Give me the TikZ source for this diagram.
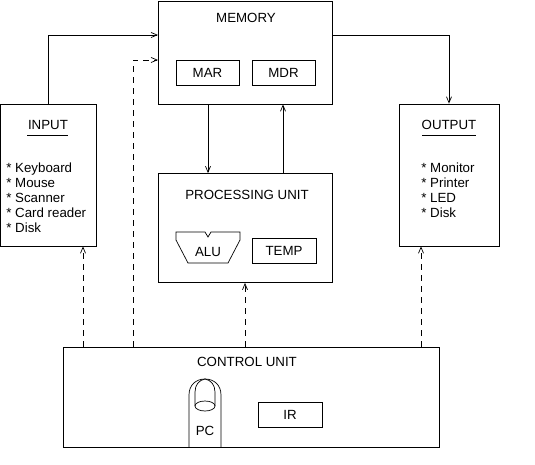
\documentclass[tikz,border=0pt]{standalone}
\usepackage{fontspec}
\setmainfont{Liberation Sans}
\usetikzlibrary{arrows.meta}
\begin{document}
\begin{tikzpicture}[x=1pt,y=-1pt,line width=0.7pt,
  box/.style={draw,rectangle,inner sep=0pt},
  lbl/.style={font=\fontsize{13.3}{15}\selectfont,inner sep=0pt},
  arr/.style={-{Straight Barb[length=6pt,width=5pt]}},
  dsh/.style={dash pattern=on 6pt off 5pt}]
\useasboundingbox (0,0) rectangle (535,465);
% boxes
\node[box,minimum width=174pt,minimum height=103pt] (memory) at (245,52.5) {};
\node[lbl] (memlbl) at (246,18) {MEMORY};
\node[box,minimum width=63pt,minimum height=25pt,lbl] (mar) at (207.5,72.5) {MAR};
\node[box,minimum width=63pt,minimum height=25pt,lbl] (mdr) at (283.5,72.5) {MDR};

\node[box,minimum width=174pt,minimum height=109pt] (proc) at (245,228) {};
\node[lbl] (proclbl) at (247,195) {PROCESSING UNIT};
\node[box,minimum width=64pt,minimum height=25pt,lbl] (temp) at (284,250.5) {TEMP};
\draw (176,232) -- (205,232) -- (208,237) -- (211,232) -- (240,232) -- (240,240) -- (228,263) -- (188,263) -- (176,240) -- cycle;
\node[lbl] (alu) at (208,252) {ALU};

\node[box,minimum width=96pt,minimum height=142pt] (input) at (48.5,175) {};
\node[lbl] (inlbl) at (48,125) {INPUT};
\draw (27,135) -- (68,135);
\node[lbl,align=left,anchor=north west] (inlist) at (6,163) {* Keyboard\\* Mouse\\* Scanner\\* Card reader\\* Disk};

\node[box,minimum width=100pt,minimum height=142pt] (output) at (449,175) {};
\node[lbl] (outlbl) at (449,125) {OUTPUT};
\draw (422,135) -- (476,135);
\node[lbl,align=left,anchor=north west] (outlist) at (421,163) {* Monitor\\* Printer\\* LED\\* Disk};

\node[box,minimum width=376pt,minimum height=100pt] (ctrl) at (251,397) {};
\node[lbl] (ctrllbl) at (247,362) {CONTROL UNIT};
\node[box,minimum width=64pt,minimum height=25pt,lbl] (ir) at (290,414.5) {IR};
% PC cylinder
\draw (189,447) -- (189,395) .. controls (189,385) and (196,379) .. (205,379) .. controls (214,379) and (221,385) .. (221,395) -- (221,447);
\draw (195,406) -- (195,392) .. controls (195,385) and (199,380) .. (205,379);
\draw (215,406) -- (215,392) .. controls (215,385) and (211,380) .. (205,379);
\draw (205,406) ellipse [x radius=10, y radius=5];
\node[lbl] (pc) at (205,431) {PC};

% connectors
\coordinate (m1) at (158,35);
\coordinate (m2) at (332,35);
\coordinate (m3) at (158,60);
\coordinate (c1) at (83,0);
\coordinate (c2) at (133,0);
\coordinate (c4) at (421,0);
\draw[arr] (input.north) |- (m1);
\draw[arr] (m2) -| (output.north);
\draw[arr] ([xshift=-37pt]memory.south) -- ([xshift=-37pt]proc.north);
\draw[arr] ([xshift=38pt]proc.north) -- ([xshift=38pt]memory.south);
\draw[arr,dsh] (ctrl.north -| c1) -- (input.south -| c1);
\draw[arr,dsh] (ctrl.north -| c2) |- (m3);
\draw[arr,dsh] (ctrl.north -| proc.south) -- (proc.south);
\draw[arr,dsh] (ctrl.north -| c4) -- (output.south -| c4);
\end{tikzpicture}
\end{document}
